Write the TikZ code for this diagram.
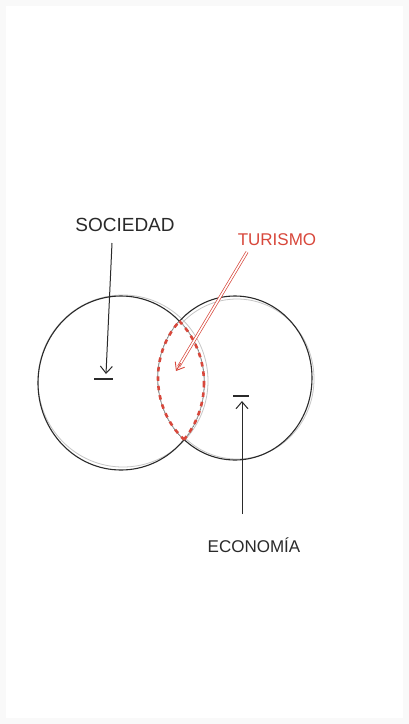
\documentclass[tikz,border=0pt]{standalone}
\usepackage{fontspec}
\setmainfont{Liberation Sans}
\usetikzlibrary{arrows.meta,calc}
\definecolor{pencil}{HTML}{2A2A2A}
\definecolor{redpen}{HTML}{D8473B}
\definecolor{bgc}{HTML}{F9F9F9}
\tikzset{
  label/.style={inner sep=0pt, anchor=base, text=pencil},
  ring/.style={draw=pencil, line width=1.1pt},
  ghost/.style={draw=gray!45, line width=0.8pt},
  pointer/.style={draw=pencil, line width=1pt, -{Straight Barb[length=7pt,width=12pt,line width=1pt]}},
  barline/.style={draw=pencil, line width=1.2pt},
  lensdash/.style={redpen, line width=2.6pt, dash pattern=on 4.5pt off 5pt},
}
\begin{document}
\begin{tikzpicture}[x=1pt,y=-1pt]
\fill[bgc] (0,0) rectangle (409,724);
\fill[white] (6,6) rectangle (403,718);
\useasboundingbox (0,0) rectangle (409,724);

% circles
\draw[ghost] (123,381) ellipse [x radius=85, y radius=86];
\draw[ghost] (237,379) ellipse [x radius=77, y radius=80];
\draw[ring] (121,383) ellipse [x radius=83, y radius=87];
\draw[ring] (235,378) ellipse [x radius=77, y radius=82];

% lens
\begin{scope}
  \clip (121,383) ellipse [x radius=83, y radius=87];
  \fill[white] (235,378) ellipse [x radius=77, y radius=82];
  \draw[gray!60, line width=0.6pt] (235,378) ellipse [x radius=77, y radius=82];
  \draw[lensdash] (235,378) ellipse [x radius=77, y radius=82];
\end{scope}
\begin{scope}
  \clip (235,378) ellipse [x radius=77, y radius=82];
  \draw[gray!60, line width=0.6pt] (121,383) ellipse [x radius=83, y radius=87];
  \draw[lensdash] (121,383) ellipse [x radius=83, y radius=87];
\end{scope}

% labels
\node[label, font=\fontsize{19}{19}\selectfont] (soc) at (125,231) {SOCIEDAD};
\node[label, font=\fontsize{17}{17}\selectfont, text=redpen] (tur) at (277,245) {TURISMO};
\node[label, font=\fontsize{17}{17}\selectfont] (eco) at (254,552) {ECONOMÍA};

% SOCIEDAD arrow
\coordinate (sa) at (112,243);
\coordinate (sb) at (106,374);
\draw[pointer] (sa) -- (sb);
\coordinate (sl) at (94,379);
\coordinate (sr) at (113,379);
\draw[barline] (sl) -- (sr);

% ECONOMIA arrow
\coordinate (ea) at (242,514);
\coordinate (eb) at (242,401);
\draw[pointer] (ea) -- (eb);
\coordinate (el) at (233,396);
\coordinate (er) at (249,396);
\draw[barline] (el) -- (er);

% TURISMO arrow
\coordinate (ta) at (247,252);
\coordinate (tb) at (176,371);
\draw[redpen, line width=0.7pt, double=white, double distance=1.6pt, shorten >=5pt] (ta) -- (tb);
\draw[redpen, line width=0.9pt, -{Straight Barb[length=7pt,width=11pt,line width=0.9pt]}] ($(tb)!9pt!(ta)$) -- (tb);
\end{tikzpicture}
\end{document}
